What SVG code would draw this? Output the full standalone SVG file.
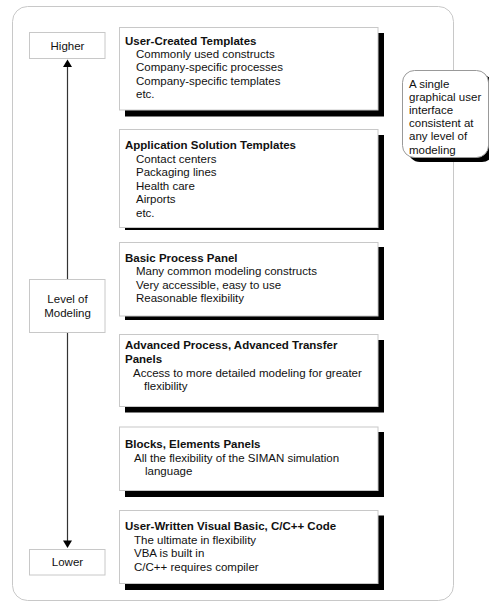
<svg xmlns="http://www.w3.org/2000/svg" width="489" height="603" viewBox="0 0 489 603">
<style>
text{font-family:"Liberation Sans",Arial,sans-serif;font-size:11.5px;fill:#111}
.b{font-weight:bold}
.c{text-anchor:middle}
.lbl{fill:#fff;stroke:#c8c8c8;stroke-width:1}
.box{fill:#fff;stroke:#c8c8c8;stroke-width:1}
.sh{fill:#000}
.conn{stroke:#333;stroke-width:1.2;fill:none}
.ah{fill:#000}
</style>
<rect id="frame" x="12.5" y="6.5" width="441" height="594" rx="15" fill="#fff" stroke="#c8c8c8" stroke-width="1"/>
<g id="connectors">
<line class="conn" x1="67.5" y1="66" x2="67.5" y2="541"/>
<polygon class="ah" points="67.5,59.5 63,67 72,67"/>
<polygon class="ah" points="67.5,548 63,540.5 72,540.5"/>
</g>
<g id="higher">
<rect class="lbl" x="29.5" y="32.5" width="75.5" height="26"/>
<text class="c" x="67.5" y="49.5">Higher</text>
</g>
<g id="level">
<rect class="lbl" x="29.5" y="279.5" width="75.5" height="53"/>
<text class="c" x="67.5" y="303">Level of</text>
<text class="c" x="67.5" y="316.5">Modeling</text>
</g>
<g id="lower">
<rect class="lbl" x="29.5" y="549.5" width="75.5" height="25.5"/>
<text class="c" x="67.5" y="566">Lower</text>
</g>
<g id="user-created">
<rect class="sh" x="125" y="33" width="259" height="83.5"/>
<rect class="box" x="119.5" y="27.5" width="258.5" height="82.5"/>
<text class="b" x="125" y="44.5">User-Created Templates</text>
<text x="136" y="57.5">Commonly used constructs</text>
<text x="136" y="71">Company-specific processes</text>
<text x="136" y="84.5">Company-specific templates</text>
<text x="136" y="98">etc.</text>
</g>
<g id="application">
<rect class="sh" x="125" y="135" width="259" height="95"/>
<rect class="box" x="119.5" y="129.5" width="258.5" height="98"/>
<text class="b" x="125" y="149">Application Solution Templates</text>
<text x="136" y="162.5">Contact centers</text>
<text x="136" y="176">Packaging lines</text>
<text x="136" y="189.5">Health care</text>
<text x="136" y="203">Airports</text>
<text x="136" y="216.5">etc.</text>
</g>
<g id="basic">
<rect class="sh" x="125" y="247" width="259" height="73"/>
<rect class="box" x="119.5" y="242.5" width="258.5" height="73.5"/>
<text class="b" x="125" y="261.5">Basic Process Panel</text>
<text x="136" y="275">Many common modeling constructs</text>
<text x="136" y="288.5">Very accessible, easy to use</text>
<text x="136" y="302">Reasonable flexibility</text>
</g>
<g id="advanced">
<rect class="sh" x="125" y="340" width="259" height="72.5"/>
<rect class="box" x="119.5" y="334.5" width="258.5" height="72"/>
<text class="b" x="125" y="349">Advanced Process, Advanced Transfer</text>
<text class="b" x="125" y="363">Panels</text>
<text x="133" y="376.5">Access to more detailed modeling for greater</text>
<text x="144" y="390">flexibility</text>
</g>
<g id="blocks">
<rect class="sh" x="125" y="432" width="259" height="65"/>
<rect class="box" x="119.5" y="427" width="258.5" height="63.5"/>
<text class="b" x="125" y="448">Blocks, Elements Panels</text>
<text x="134" y="461.5">All the flexibility of the SIMAN simulation</text>
<text x="145" y="475">language</text>
</g>
<g id="userwritten">
<rect class="sh" x="125" y="515.5" width="259" height="74.5"/>
<rect class="box" x="119.5" y="510.5" width="258.5" height="73"/>
<text class="b" x="125" y="530">User-Written Visual Basic, C/C++ Code</text>
<text x="134" y="543.5">The ultimate in flexibility</text>
<text x="134" y="557">VBA is built in</text>
<text x="134" y="570.5">C/C++ requires compiler</text>
</g>
<g id="callout">
<rect class="sh" x="408" y="75" width="86" height="87" rx="12"/>
<rect x="402.5" y="70.5" width="86" height="87" rx="12" fill="#fff" stroke="#999" stroke-width="1"/>
<text x="409" y="87.5">A single</text>
<text x="409" y="100.7">graphical user</text>
<text x="409" y="113.9">interface</text>
<text x="409" y="127.1">consistent at</text>
<text x="409" y="140.3">any level of</text>
<text x="409" y="153.5">modeling</text>
</g>
</svg>
